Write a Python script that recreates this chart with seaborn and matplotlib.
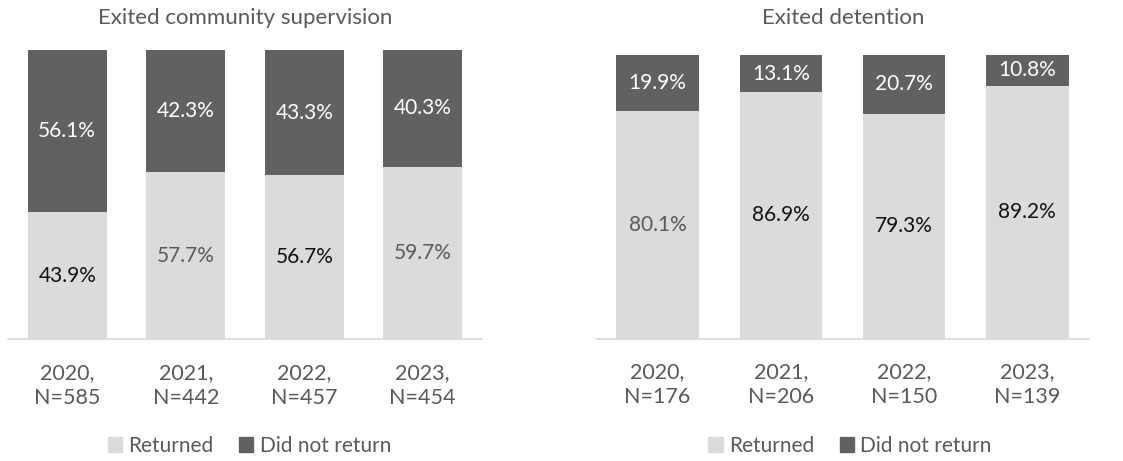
import pandas as pd
import matplotlib
matplotlib.use("Agg")
import matplotlib.pyplot as plt
from matplotlib.patches import Patch
import seaborn as sns

years = ["2020", "2021", "2022", "2023"]

comm_n = [585, 442, 457, 454]
comm_returned = [43.9, 57.7, 56.7, 59.7]
comm_not_returned = [56.1, 42.3, 43.3, 40.3]

det_n = [176, 206, 150, 139]
det_returned = [80.1, 86.9, 79.3, 89.2]
det_not_returned = [19.9, 13.1, 20.7, 10.8]

# label colours in the light segments differ in the original
comm_ret_label_colors = ["#111111", "#595959", "#111111", "#595959"]
det_ret_label_colors = ["#595959", "#111111", "#111111", "#111111"]

LIGHT = "#dbdbdb"
DARK = "#616161"
TEXT = "#595959"

sns.set_style("white")
plt.rcParams["font.family"] = ["Lato", "DejaVu Sans"]

fig = plt.figure(figsize=(11.23, 4.61), dpi=100)
ax1 = fig.add_axes([0.0071, 0.2636, 0.4221, 0.628])
ax2 = fig.add_axes([0.5307, 0.2657, 0.4390, 0.615])


def draw(ax, n, ret, notret, ret_colors, title, title_x, width, leg_x):
    df = pd.DataFrame({"label": [f"{y},\nN={k}" for y, k in zip(years, n)],
                       "returned": ret, "not_returned": notret})
    sns.barplot(data=df, x="label", y="returned", color=LIGHT, width=width,
                saturation=1, linewidth=0, ax=ax)
    sns.barplot(data=df, x="label", y="not_returned", color=DARK, width=width,
                saturation=1, linewidth=0, bottom=df["returned"], ax=ax)
    for i, (r, d) in enumerate(zip(ret, notret)):
        ax.text(i, r / 2, f"{r:.1f}%", ha="center", va="center",
                fontsize=15, color=ret_colors[i])
        ax.text(i, r + d / 2, f"{d:.1f}%", ha="center", va="center",
                fontsize=15, color="white")
    ax.set_ylim(0, 100)
    ax.set_xlim(-0.5, 3.5)
    ax.set_xlabel("")
    ax.set_ylabel("")
    ax.set_yticks([])
    sns.despine(ax=ax, left=True, right=True, top=True)
    ax.spines["bottom"].set_color("#d9d9d9")
    ax.spines["bottom"].set_linewidth(1.2)
    ax.tick_params(axis="x", length=0, pad=17, labelsize=15.5, labelcolor=TEXT)
    for lbl in ax.get_xticklabels():
        lbl.set_linespacing(1.3)
    fig.text(title_x, 0.962, title, fontsize=16, color=TEXT,
             ha="center", va="center")
    handles = [Patch(color=LIGHT, label="Returned"),
               Patch(color=DARK, label="Did not return")]
    fig.legend(handles=handles, loc="center", bbox_to_anchor=(leg_x, 0.033),
               ncol=2, frameon=False, fontsize=15, handlelength=0.7,
               handleheight=0.7, handletextpad=0.3, columnspacing=1.2,
               labelcolor=TEXT, borderpad=0)


draw(ax1, comm_n, comm_returned, comm_not_returned, comm_ret_label_colors,
     "Exited community supervision", 0.218, 0.667, 0.222)
draw(ax2, det_n, det_returned, det_not_returned, det_ret_label_colors,
     "Exited detention", 0.751, 0.67, 0.757)

fig.savefig("out.png", dpi=100)
